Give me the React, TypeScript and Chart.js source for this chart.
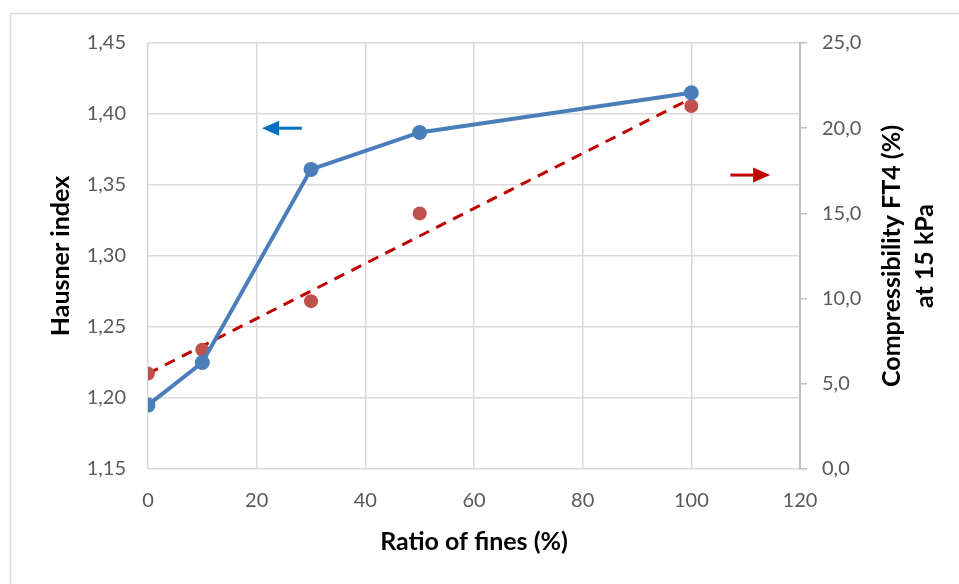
import React, { useEffect, useRef } from "react";
import { Chart, registerables } from "chart.js";

Chart.register(...registerables);

// Data
const fines = [0, 10, 30, 50, 100];
const hausnerIndex = [1.195, 1.225, 1.361, 1.387, 1.415];
const compressibility = [5.6, 7.0, 9.85, 15.0, 21.3];
const trendX = [0, 100];
const trendY = [5.6, 21.75];

const xTicks = { min: 0, max: 120, step: 20 };
const leftTicks = { min: 1.15, max: 1.45, step: 0.05 };
const rightTicks = { min: 0, max: 25, step: 5 };

const rightTitleLines = ["Compressibility FT4 (%)", "at 15 kPa"];

// Arrow annotations (data coordinates): [xFrom, xTo, y]
const blueArrow = [28.3, 21, 1.39];
const redArrow = [107.2, 114.5, 17.25];

const FONT = "Lato, 'Open Sans', sans-serif";
const GRID = "#d9d9d9";
const TITLE_SIZE = 25;

function drawArrow(ctx: CanvasRenderingContext2D, x1: number, x2: number, y: number, color: string) {
  const dir = Math.sign(x2 - x1);
  const head = 17;
  const half = 7.5;
  ctx.save();
  ctx.strokeStyle = color;
  ctx.fillStyle = color;
  ctx.lineWidth = 3;
  ctx.beginPath();
  ctx.moveTo(x1, y);
  ctx.lineTo(x2 - dir * head, y);
  ctx.stroke();
  ctx.beginPath();
  ctx.moveTo(x2, y);
  ctx.lineTo(x2 - dir * head, y - half);
  ctx.lineTo(x2 - dir * head, y + half);
  ctx.closePath();
  ctx.fill();
  ctx.restore();
}

const decorPlugin = {
  id: "decor",
  beforeDraw(chart: any) {
    const ctx = chart.ctx;
    ctx.save();
    ctx.fillStyle = "#ffffff";
    ctx.fillRect(0, 0, chart.width, chart.height);
    ctx.strokeStyle = GRID;
    ctx.lineWidth = 1.5;
    ctx.strokeRect(10.5, 13.5, chart.width + 20, chart.height + 20);
    ctx.restore();
  },
  afterDraw(chart: any) {
    const { ctx, scales, chartArea } = chart;
    drawArrow(
      ctx,
      scales.x.getPixelForValue(blueArrow[0]),
      scales.x.getPixelForValue(blueArrow[1]),
      scales.y.getPixelForValue(blueArrow[2]),
      "#0070c0"
    );
    drawArrow(
      ctx,
      scales.x.getPixelForValue(redArrow[0]),
      scales.x.getPixelForValue(redArrow[1]),
      scales.y2.getPixelForValue(redArrow[2]),
      "#c00000"
    );
    // right axis title, reading bottom to top
    const cy = (chartArea.top + chartArea.bottom) / 2;
    ctx.save();
    ctx.fillStyle = "#000000";
    ctx.font = `bold ${TITLE_SIZE}px ${FONT}`;
    ctx.textAlign = "center";
    ctx.textBaseline = "middle";
    rightTitleLines.forEach((line, i) => {
      ctx.save();
      ctx.translate(chartArea.right + 92 + i * 33, cy);
      ctx.rotate(-Math.PI / 2);
      ctx.fillText(line, 0, 0);
      ctx.restore();
    });
    ctx.restore();
  },
};

export default function App() {
  const ref = useRef<HTMLCanvasElement>(null);

  useEffect(() => {
    document.body.style.margin = "0";
    const canvas = ref.current;
    if (!canvas) return;
    const chart = new Chart(canvas, {
      type: "line",
      data: {
        datasets: [
          {
            label: "Hausner index",
            data: fines.map((x, i) => ({ x, y: hausnerIndex[i] })),
            yAxisID: "y",
            borderColor: "#4a7ebb",
            backgroundColor: "#4a7ebb",
            borderWidth: 4,
            pointRadius: 7.5,
            pointBorderWidth: 0,
            pointBackgroundColor: "#4a7ebb",
            tension: 0,
          },
          {
            label: "Compressibility",
            data: fines.map((x, i) => ({ x, y: compressibility[i] })),
            yAxisID: "y2",
            showLine: false,
            borderColor: "#c0504d",
            backgroundColor: "#c0504d",
            pointRadius: 7,
            pointBorderWidth: 0,
            pointBackgroundColor: "#c0504d",
          },
          {
            label: "Trend",
            data: trendX.map((x, i) => ({ x, y: trendY[i] })),
            yAxisID: "y2",
            borderColor: "#c00000",
            borderWidth: 3,
            borderDash: [11, 8],
            pointRadius: 0,
          },
        ],
      },
      options: {
        animation: false,
        responsive: false,
        layout: { padding: { left: 36, top: 43, right: 0, bottom: 0 } },
        plugins: { legend: { display: false }, tooltip: { enabled: false } },
        scales: {
          x: {
            type: "linear",
            min: xTicks.min,
            max: xTicks.max,
            ticks: {
              stepSize: xTicks.step,
              color: "#595959",
              font: { family: FONT, size: 20 },
              padding: 20,
            },
            grid: { color: GRID, lineWidth: 1.5, drawTicks: false },
            border: { display: false },
            title: {
              display: true,
              text: "Ratio of fines (%)",
              color: "#000000",
              font: { family: FONT, size: TITLE_SIZE, weight: "bold" },
              padding: { top: 10, bottom: 27 },
            },
            afterFit: (s: any) => {
              s.height = 115;
            },
          },
          y: {
            position: "left",
            min: leftTicks.min,
            max: leftTicks.max,
            ticks: {
              stepSize: leftTicks.step,
              color: "#595959",
              font: { family: FONT, size: 20 },
              padding: 22,
              callback: (v: any) => Number(v).toFixed(2).replace(".", ","),
            },
            grid: { color: GRID, lineWidth: 1.5, drawTicks: false },
            border: { display: false },
            title: {
              display: true,
              text: "Hausner index",
              color: "#000000",
              font: { family: FONT, size: TITLE_SIZE, weight: "bold" },
              padding: { top: 10, bottom: 0 },
            },
            afterFit: (s: any) => {
              s.width = 112;
            },
          },
          y2: {
            position: "right",
            min: rightTicks.min,
            max: rightTicks.max,
            ticks: {
              stepSize: rightTicks.step,
              color: "#595959",
              font: { family: FONT, size: 20 },
              padding: 15,
              callback: (v: any) => Number(v).toFixed(1).replace(".", ","),
            },
            grid: {
              drawOnChartArea: false,
              color: "#bfbfbf",
              lineWidth: 1.5,
              tickLength: 7,
            },
            border: { display: true, color: "#bfbfbf", width: 2 },
            title: { display: false },
            afterFit: (s: any) => {
              s.width = 159;
            },
          },
        },
      },
      plugins: [decorPlugin],
    } as any);
    return () => chart.destroy();
  }, []);

  return (
    <div style={{ width: 959, height: 584, position: "relative" }}>
      <canvas ref={ref} width={959} height={584} style={{ display: "block" }} />
    </div>
  );
}
